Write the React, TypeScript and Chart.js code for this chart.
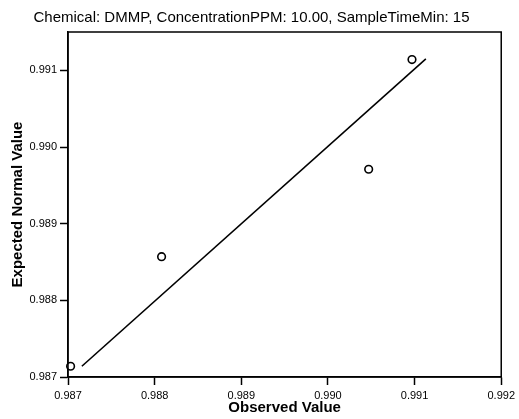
import React, { useEffect, useRef } from "react";
import { Chart, registerables } from "chart.js";

Chart.register(...registerables);

const titleText = "Chemical: DMMP, ConcentrationPPM: 10.00, SampleTimeMin: 15";
const observed = [0.98703, 0.98808, 0.99047, 0.99097];
const expected = [0.98714, 0.98857, 0.98971, 0.99114];
const fitX = [0.98716, 0.99113];
const fitY = [0.98714, 0.99115];
const xTicks = [0.987, 0.988, 0.989, 0.99, 0.991, 0.992];
const yTicks = [0.987, 0.988, 0.989, 0.99, 0.991];

const FONT = "'Liberation Sans', Arial, Helvetica, sans-serif";

const boxPlugin = {
  id: "boxPlugin",
  afterDraw(chart: any) {
    const { ctx, chartArea } = chart;
    ctx.save();
    ctx.strokeStyle = "#000";
    ctx.lineWidth = 1.5;
    ctx.strokeRect(chartArea.left, chartArea.top, chartArea.right - chartArea.left, chartArea.bottom - chartArea.top);
    ctx.restore();
  },
};

export default function App() {
  const ref = useRef<HTMLCanvasElement>(null);
  useEffect(() => {
    if (!ref.current) return;
    const chart = new Chart(ref.current, {
      type: "scatter",
      data: {
        datasets: [
          {
            label: "Fit",
            type: "line",
            data: fitX.map((x, i) => ({ x, y: fitY[i] })),
            borderColor: "#000",
            borderWidth: 1.6,
            pointRadius: 0,
            fill: false,
          },
          {
            label: "Values",
            data: observed.map((x, i) => ({ x, y: expected[i] })),
            pointRadius: 3.8,
            pointBorderWidth: 1.6,
            pointBorderColor: "#000",
            pointBackgroundColor: "#fff",
            clip: false as any,
          },
        ],
      },
      options: {
        animation: false,
        responsive: false,
        layout: { padding: { left: 0, right: 16, top: 0, bottom: 0 } },
        plugins: {
          legend: { display: false },
          tooltip: { enabled: false },
          title: {
            display: true,
            text: titleText,
            color: "#000",
            font: { family: FONT, size: 15, weight: "normal" },
            padding: { top: 9, bottom: 5 },
          },
        },
        scales: {
          x: {
            type: "linear",
            min: 0.987,
            max: 0.992,
            afterBuildTicks: (s: any) => {
              s.ticks = xTicks.map((v) => ({ value: v }));
            },
            afterFit: (s: any) => {
              s.height = 42;
            },
            ticks: {
              color: "#000",
              font: { family: FONT, size: 11 },
              padding: 4,
              maxRotation: 0,
              callback: (v: any) => Number(v).toFixed(3),
            },
            grid: { drawOnChartArea: false, tickLength: 8, tickColor: "#000", tickWidth: 1.5 },
            border: { color: "#000", width: 1.5 },
            title: {
              display: true,
              text: "Observed Value",
              color: "#000",
              font: { family: FONT, size: 15, weight: "bold" },
              padding: { top: 0, bottom: 2 },
            },
          },
          y: {
            type: "linear",
            min: 0.987,
            max: 0.9915,
            afterBuildTicks: (s: any) => {
              s.ticks = yTicks.map((v) => ({ value: v }));
            },
            afterFit: (s: any) => {
              s.width = 68;
            },
            ticks: {
              color: "#000",
              font: { family: FONT, size: 11 },
              padding: 3,
              callback: (v: any) => Number(v).toFixed(3),
            },
            grid: { drawOnChartArea: false, tickLength: 8, tickColor: "#000", tickWidth: 1.5 },
            border: { color: "#000", width: 1.5 },
            title: {
              display: true,
              text: "Expected Normal Value",
              color: "#000",
              font: { family: FONT, size: 15, weight: "bold" },
              padding: { top: 9, bottom: 0 },
            },
          },
        },
      },
      plugins: [boxPlugin],
    });
    return () => chart.destroy();
  }, []);
  return (
    <div style={{ position: "fixed", left: 0, top: 0, width: 519, height: 419, background: "#fff" }}>
      <canvas ref={ref} width={519} height={419} style={{ display: "block" }} />
    </div>
  );
}
